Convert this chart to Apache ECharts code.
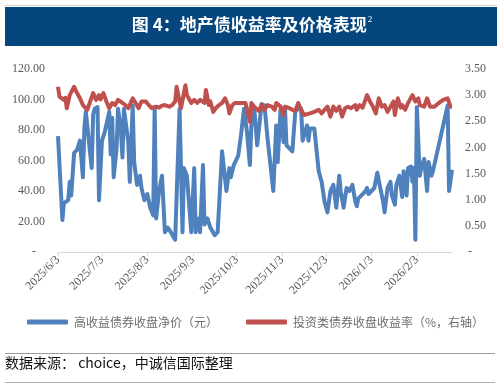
<!DOCTYPE html>
<html>
<head>
<meta charset="utf-8">
<script src="https://cdn.jsdelivr.net/npm/echarts@6/dist/echarts.min.js"></script>
<style>
  html, body { margin: 0; padding: 0; background: #fff; }
  #chart { width: 504px; height: 388px; }
</style>
</head>
<body>
<div id="chart"></div>
<script>
// 高收益债券收盘净价（元）
const priceDates = [
  '2025-06-03', '2025-06-06', '2025-06-07', '2025-06-10', '2025-06-11', '2025-06-12', '2025-06-14', '2025-06-16',
  '2025-06-17', '2025-06-18', '2025-06-20', '2025-06-21', '2025-06-22', '2025-06-26', '2025-06-27', '2025-06-28',
  '2025-06-30', '2025-07-01', '2025-07-03', '2025-07-05', '2025-07-08', '2025-07-09', '2025-07-10', '2025-07-11',
  '2025-07-13', '2025-07-14', '2025-07-16', '2025-07-17', '2025-07-18', '2025-07-19', '2025-07-21', '2025-07-22',
  '2025-07-24', '2025-07-25', '2025-07-27', '2025-07-29', '2025-07-30', '2025-08-01', '2025-08-03', '2025-08-05',
  '2025-08-07', '2025-08-08', '2025-08-09', '2025-08-11', '2025-08-13', '2025-08-15', '2025-08-17', '2025-08-19',
  '2025-08-22', '2025-08-25', '2025-08-27', '2025-08-28', '2025-08-30', '2025-09-02', '2025-09-04', '2025-09-05',
  '2025-09-07', '2025-09-08', '2025-09-10', '2025-09-11', '2025-09-13', '2025-09-15', '2025-09-18', '2025-09-20',
  '2025-09-23', '2025-09-24', '2025-09-26', '2025-09-28', '2025-09-29', '2025-10-01', '2025-10-04', '2025-10-06',
  '2025-10-08', '2025-10-10', '2025-10-12', '2025-10-13', '2025-10-15', '2025-10-17', '2025-10-20', '2025-10-22',
  '2025-10-24', '2025-10-28', '2025-10-30', '2025-10-31', '2025-11-02', '2025-11-04', '2025-11-05', '2025-11-06',
  '2025-11-08', '2025-11-10', '2025-11-12', '2025-11-14', '2025-11-16', '2025-11-17', '2025-11-20', '2025-11-21',
  '2025-11-22', '2025-11-25', '2025-11-28', '2025-11-30', '2025-12-02', '2025-12-04', '2025-12-06', '2025-12-08',
  '2025-12-10', '2025-12-12', '2025-12-13', '2025-12-15', '2025-12-17', '2025-12-19', '2025-12-21', '2025-12-23',
  '2025-12-24', '2025-12-25', '2025-12-27', '2025-12-30', '2025-12-31', '2026-01-01', '2026-01-03', '2026-01-05',
  '2026-01-07', '2026-01-09', '2026-01-11', '2026-01-12', '2026-01-14', '2026-01-16', '2026-01-17', '2026-01-19',
  '2026-01-20', '2026-01-22', '2026-01-24', '2026-01-25', '2026-01-27', '2026-01-28', '2026-01-30', '2026-01-31',
  '2026-02-01', '2026-02-02', '2026-02-03', '2026-02-05', '2026-02-06', '2026-02-08', '2026-02-10', '2026-02-11',
  '2026-02-13', '2026-02-14', '2026-02-24', '2026-02-25', '2026-02-27'
];
const priceValues = [
  76, 21, 32, 34, 46, 37, 65, 67,
  68, 73, 49, 81, 92, 55, 90, 94,
  95, 34, 73, 79, 92, 64, 88, 49,
  68, 94, 79, 62, 94, 95, 72, 46,
  96, 59, 44, 50, 42, 34, 38, 29,
  24, 95, 22, 40, 50, 13, 16, 13,
  8, 94, 13, 55, 50, 13, 55, 13,
  22, 13, 57, 18, 22, 16, 11, 13,
  66, 65, 40, 55, 49, 57, 63, 77,
  94, 79, 57, 83, 94, 70, 97, 96,
  75, 40, 83, 59, 94, 72, 94, 70,
  68, 66, 92, 94, 94, 73, 83, 73,
  81, 81, 53, 46, 33, 26, 40, 44,
  29, 50, 40, 29, 42, 40, 44, 33,
  30, 35, 37, 40, 42, 38, 40, 42,
  52, 42, 33, 26, 42, 46, 37, 31,
  44, 50, 36, 53, 37, 55, 56, 46,
  55, 8, 95, 50, 55, 61, 40, 59,
  50, 53, 96, 40, 54
];

// 投资类债券收盘收益率（%，右轴）
const yieldDates = [
  '2025-06-03', '2025-06-04', '2025-06-07', '2025-06-08', '2025-06-09', '2025-06-11', '2025-06-14', '2025-06-16',
  '2025-06-18', '2025-06-20', '2025-06-23', '2025-06-25', '2025-06-27', '2025-06-29', '2025-07-01', '2025-07-02',
  '2025-07-04', '2025-07-06', '2025-07-08', '2025-07-10', '2025-07-12', '2025-07-14', '2025-07-17', '2025-07-19',
  '2025-07-21', '2025-07-24', '2025-07-26', '2025-07-28', '2025-07-30', '2025-08-02', '2025-08-04', '2025-08-06',
  '2025-08-09', '2025-08-11', '2025-08-13', '2025-08-15', '2025-08-18', '2025-08-20', '2025-08-22', '2025-08-23',
  '2025-08-25', '2025-08-26', '2025-08-29', '2025-08-30', '2025-09-02', '2025-09-04', '2025-09-06', '2025-09-08',
  '2025-09-11', '2025-09-12', '2025-09-14', '2025-09-15', '2025-09-17', '2025-09-19', '2025-09-21', '2025-09-23',
  '2025-09-25', '2025-09-27', '2025-09-28', '2025-09-30', '2025-10-02', '2025-10-06', '2025-10-09', '2025-10-12',
  '2025-10-13', '2025-10-14', '2025-10-16', '2025-10-18', '2025-10-20', '2025-10-22', '2025-10-24', '2025-10-27',
  '2025-10-29', '2025-10-30', '2025-11-02', '2025-11-04', '2025-11-05', '2025-11-08', '2025-11-10', '2025-11-12',
  '2025-11-14', '2025-11-16', '2025-11-18', '2025-11-22', '2025-11-25', '2025-11-28', '2025-11-30', '2025-12-02',
  '2025-12-04', '2025-12-06', '2025-12-08', '2025-12-10', '2025-12-12', '2025-12-14', '2025-12-16', '2025-12-18',
  '2025-12-20', '2025-12-23', '2025-12-24', '2025-12-26', '2025-12-28', '2025-12-31', '2026-01-02', '2026-01-04',
  '2026-01-06', '2026-01-08', '2026-01-10', '2026-01-12', '2026-01-14', '2026-01-16', '2026-01-18', '2026-01-19',
  '2026-01-21', '2026-01-23', '2026-01-24', '2026-01-26', '2026-01-28', '2026-01-31', '2026-02-02', '2026-02-04',
  '2026-02-05', '2026-02-08', '2026-02-10', '2026-02-12', '2026-02-15', '2026-02-18', '2026-02-21', '2026-02-24',
  '2026-02-26', '2026-02-27'
];
const yieldValues = [
  3.16, 2.97, 2.91, 2.95, 2.75, 3.00, 3.16, 3.04,
  2.94, 2.81, 2.72, 2.88, 3.04, 2.91, 3.00, 2.92,
  3.04, 2.88, 2.75, 2.85, 2.81, 2.91, 2.85, 2.81,
  2.75, 2.94, 2.85, 2.75, 2.88, 2.88, 2.81, 2.75,
  2.78, 2.76, 2.80, 2.81, 2.78, 2.81, 2.88, 3.16,
  2.88, 2.75, 3.19, 3.00, 2.85, 2.91, 2.85, 2.91,
  2.85, 3.10, 2.81, 2.88, 2.68, 2.76, 2.81, 2.85,
  2.94, 2.81, 2.65, 2.81, 2.85, 2.85, 2.85, 2.49,
  2.85, 2.81, 2.75, 2.70, 2.81, 2.72, 2.81, 2.78,
  2.72, 2.85, 2.78, 2.62, 2.78, 2.75, 2.72, 2.70,
  2.85, 2.72, 2.62, 2.65, 2.68, 2.72, 2.65, 2.72,
  2.78, 2.59, 2.78, 2.70, 2.78, 2.59, 2.75, 2.78,
  2.75, 2.81, 2.72, 2.81, 2.76, 3.00, 2.88, 2.78,
  2.65, 2.94, 2.78, 2.81, 2.68, 2.78, 2.88, 2.62,
  2.94, 2.76, 2.81, 2.72, 2.85, 3.00, 2.88, 2.94,
  2.81, 2.78, 2.94, 2.78, 2.78, 2.85, 2.91, 2.94,
  2.78, 2.78
];

// x axis tick labels
const xTickLabels = [
  '2025/6/3', '2025/7/3', '2025/8/3', '2025/9/3', '2025/10/3',
  '2025/11/3', '2025/12/3', '2026/1/3', '2026/2/3'
];

const seriesNames = ['高收益债券收盘净价（元）', '投资类债券收盘收益率（%，右轴）'];

const labelGrey = '#595959';
const serifFont = 'Liberation Serif, Times New Roman, serif';

// local-midnight timestamp from 'YYYY-MM-DD' or 'YYYY/M/D'
function toTime(s) {
  const p = s.split(/[-\/]/).map(Number);
  return new Date(p[0], p[1] - 1, p[2]).getTime();
}

function fmtDate(v) {
  const d = new Date(v);
  return d.getFullYear() + '/' + (d.getMonth() + 1) + '/' + d.getDate();
}

const tickTimes = xTickLabels.map(toTime);

const chart = echarts.init(document.getElementById('chart'), null, { renderer: 'canvas' });

const option = {
  backgroundColor: '#fff',
  animation: false,
  graphic: [
    { type: 'line', shape: { x1: 5, y1: 5.5, x2: 497, y2: 5.5 }, style: { stroke: '#d0d0d0', lineWidth: 1 } },
    { type: 'rect', shape: { x: 5, y: 7, width: 492, height: 39 }, style: { fill: '#05467f' } },
    {
      type: 'text', left: 'center', top: 15,
      style: {
        text: '{t|图 4：地产债收益率及价格表现}{s|2}',
        rich: {
          t: { fontSize: 17, fontWeight: 'bold', fill: '#fff', fontFamily: 'Noto Sans CJK SC', verticalAlign: 'bottom' },
          s: { fontSize: 9, fill: '#fff', fontFamily: serifFont, verticalAlign: 'top', padding: [0, 0, 9, 1] }
        }
      }
    },
    { type: 'line', shape: { x1: 5, y1: 353.5, x2: 495, y2: 353.5 }, style: { stroke: '#9a9a9a', lineWidth: 1 } },
    {
      type: 'text', left: 5, top: 356,
      style: {
        text: '数据来源： choice，中诚信国际整理',
        fontSize: 14, fill: '#111', fontFamily: 'Noto Sans CJK SC'
      }
    },
    { type: 'line', shape: { x1: 5, y1: 382.5, x2: 495, y2: 382.5 }, style: { stroke: '#b0b0b0', lineWidth: 1 } }
  ],
  legend: {
    left: 22, top: 311,
    itemWidth: 41, itemHeight: 5,
    itemGap: 28,
    icon: 'roundRect',
    textStyle: { color: '#6e6e6e', fontSize: 12, fontFamily: 'Noto Sans CJK SC', padding: [0, 0, 0, 1] },
    data: seriesNames
  },
  grid: { left: 58, right: 52, top: 69, bottom: 136 },
  xAxis: {
    type: 'value',
    min: toTime(priceDates[0]),
    max: toTime(priceDates[priceDates.length - 1]),
    axisLine: { show: true, onZero: false, lineStyle: { color: '#d9d9d9', width: 1 } },
    axisTick: { show: true, customValues: tickTimes, length: 4, lineStyle: { color: '#d9d9d9' } },
    axisLabel: {
      customValues: tickTimes,
      rotate: 45,
      color: labelGrey,
      fontSize: 12,
      fontFamily: serifFont,
      margin: 6,
      formatter: v => fmtDate(v)
    },
    splitLine: { show: false }
  },
  yAxis: [
    {
      type: 'value', min: 0, max: 120, interval: 20,
      axisLine: { show: false }, axisTick: { show: false },
      splitLine: { show: false },
      axisLabel: {
        color: labelGrey, fontSize: 12, fontFamily: serifFont, margin: 13,
        formatter: v => v === 0 ? '-   ' : v.toFixed(2)
      }
    },
    {
      type: 'value', min: 0, max: 3.5, interval: 0.5,
      axisLine: { show: false }, axisTick: { show: false },
      splitLine: { show: false },
      axisLabel: {
        color: labelGrey, fontSize: 12, fontFamily: serifFont, margin: 13,
        formatter: v => v === 0 ? ' -' : v.toFixed(2)
      }
    }
  ],
  series: [
    {
      name: seriesNames[0],
      type: 'line',
      yAxisIndex: 0,
      showSymbol: false,
      color: '#4f81bd',
      lineStyle: { width: 4, color: '#4f81bd', join: 'round' },
      data: priceDates.map((d, i) => [toTime(d), priceValues[i]]),
      z: 2
    },
    {
      name: seriesNames[1],
      type: 'line',
      yAxisIndex: 1,
      showSymbol: false,
      color: '#c0504d',
      lineStyle: { width: 4, color: '#c0504d', join: 'round' },
      data: yieldDates.map((d, i) => [toTime(d), yieldValues[i]]),
      z: 3
    }
  ]
};

chart.setOption(option);
</script>
</body>
</html>
